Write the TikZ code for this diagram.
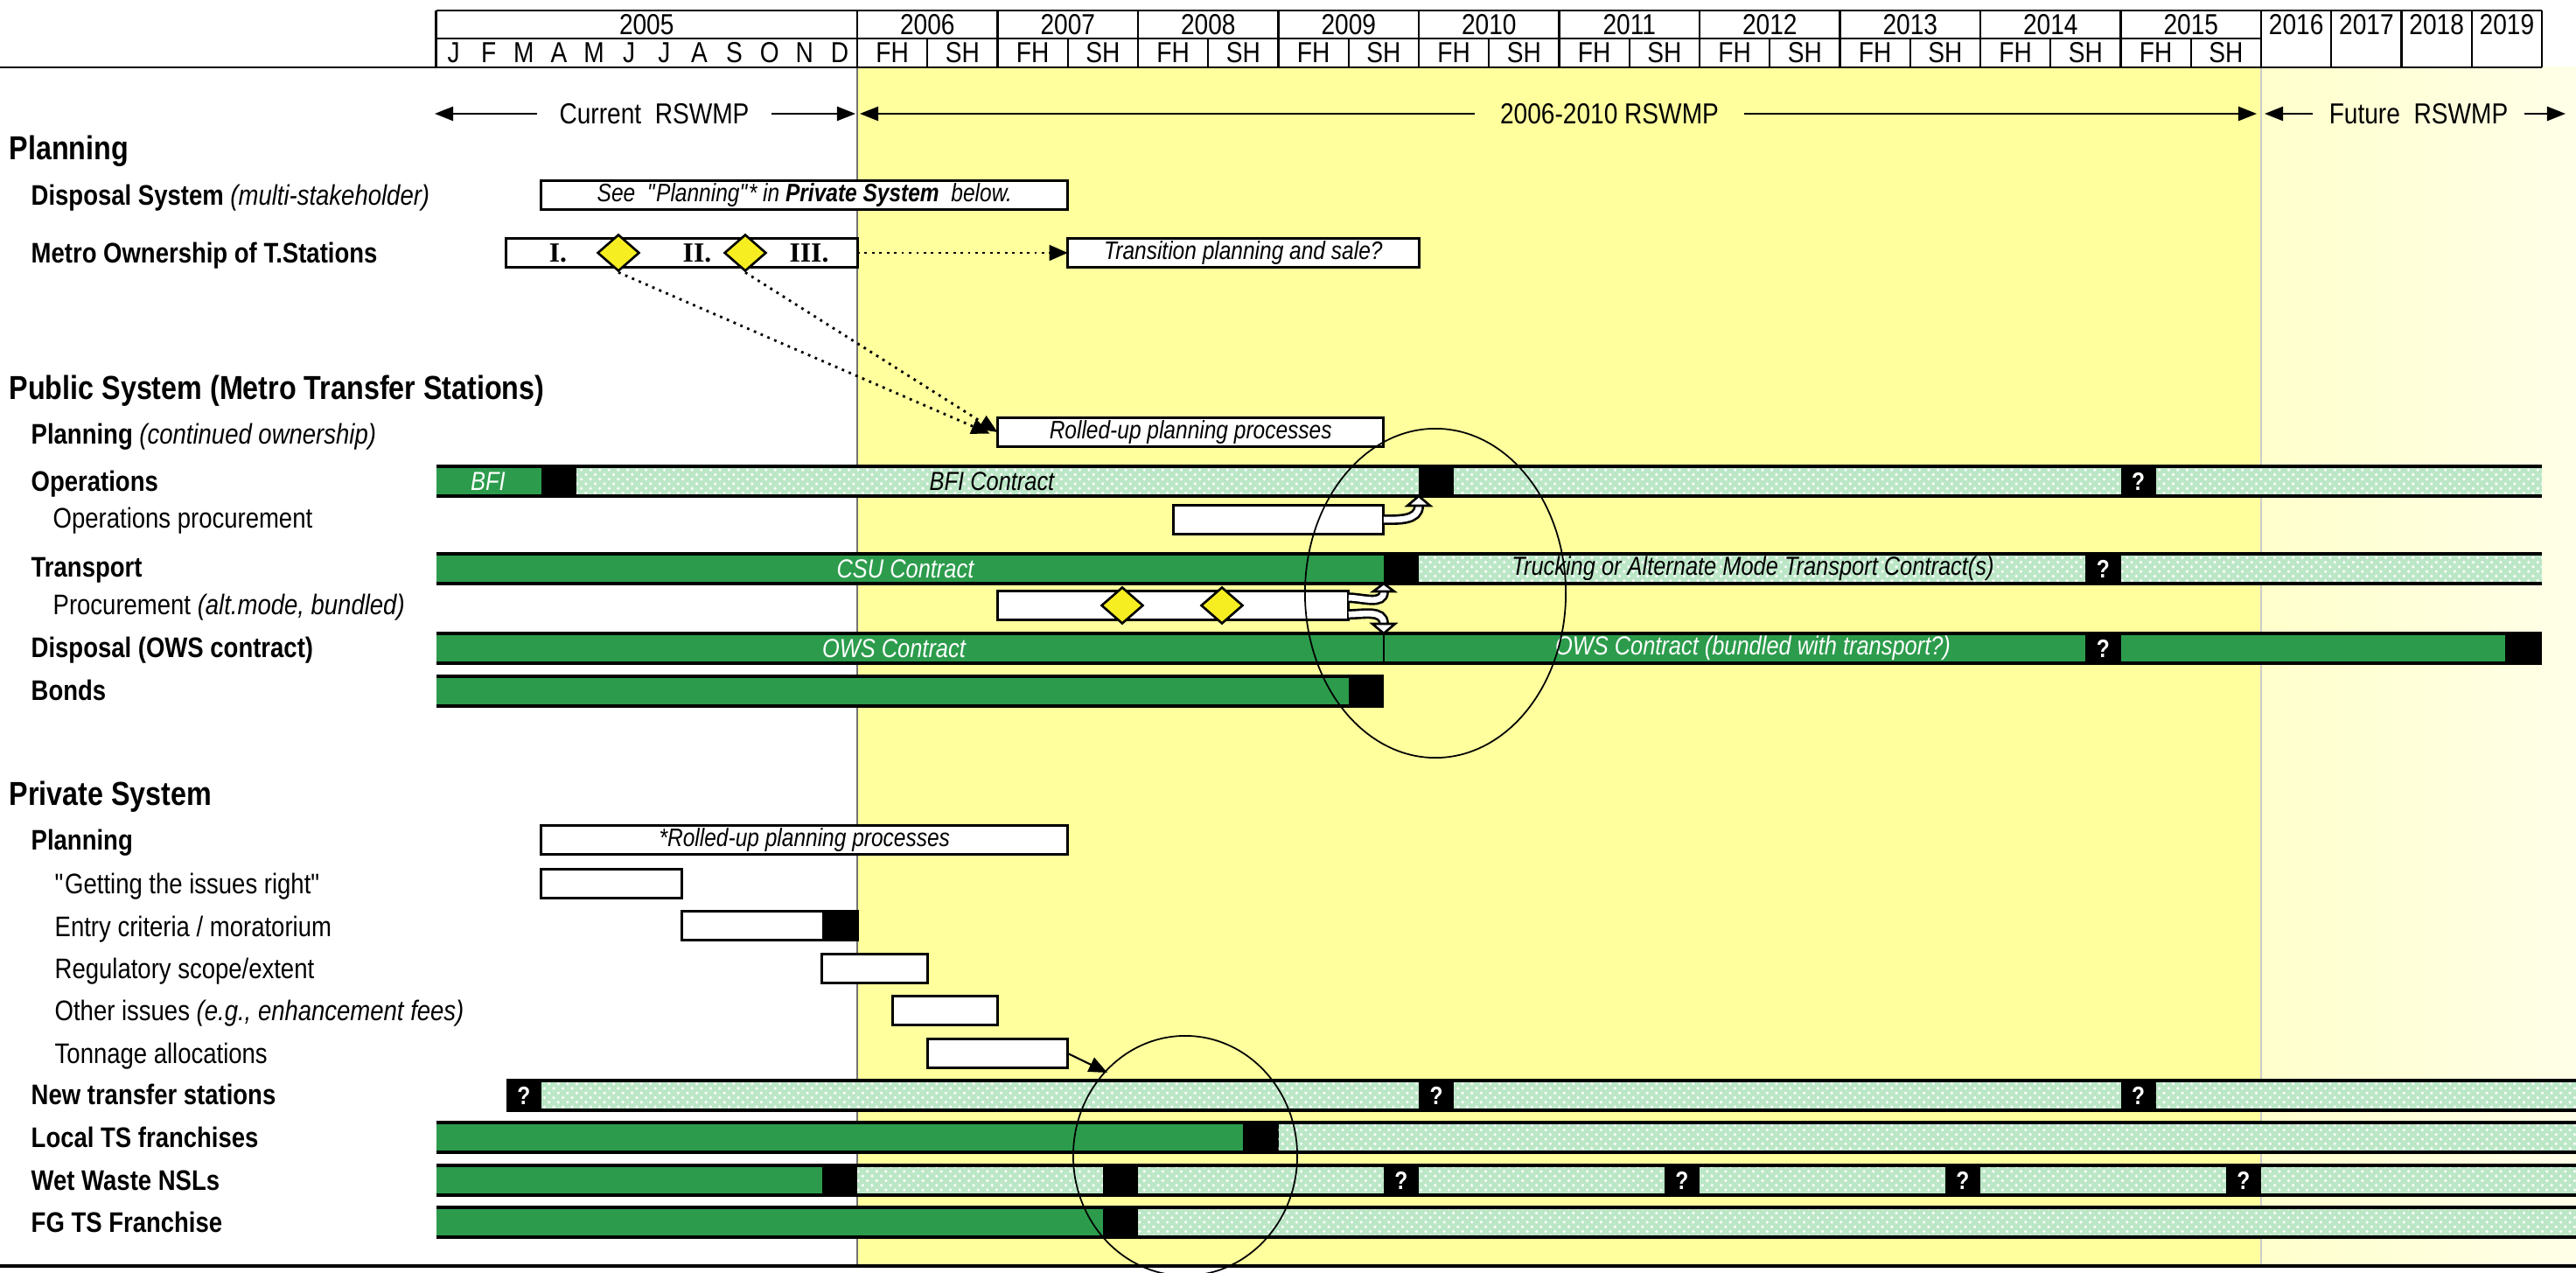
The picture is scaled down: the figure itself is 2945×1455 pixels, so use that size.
\documentclass[tikz,border=0pt]{standalone}
\usepackage{fontspec}
\setmainfont{Liberation Sans}[FakeStretch=0.85]
\newfontfamily\romanfont{Liberation Serif}
\usetikzlibrary{arrows.meta,patterns,shapes.geometric}
\definecolor{ylw}{HTML}{FFFF9E}
\definecolor{paleylw}{HTML}{FFFFCC}
\definecolor{dkgreen}{HTML}{2C9C4C}
\definecolor{ltgreen}{HTML}{BCE7C7}
\definecolor{dmd}{HTML}{F7EE22}
\newcommand{\dkseg}[3]{\fill[dkgreen] (#1,{#3-17}) rectangle (#2,{#3+17});}
\newcommand{\ltseg}[3]{\fill[ltgreen] (#1,{#3-17}) rectangle (#2,{#3+17});
  \fill[pattern=crosshatch dots, pattern color=white] (#1,{#3-17}) rectangle (#2,{#3+17});}
\newcommand{\blk}[5]{\node[qblk, minimum width={(#3-#2)*0.01cm}] (#1) at ({(#2+#3)/2},#4) {#5};}
\newcommand{\baredge}[3]{\draw[barline] (#1,{#3-17}) -- (#2,{#3-17}) (#1,{#3+17}) -- (#2,{#3+17});}
\newcommand{\wbox}[5]{\node[wbox, minimum width={(#3-#2)*0.01cm}] (#1) at ({(#2+#3)/2},#4) {#5};}
\begin{document}
\begin{tikzpicture}[x=0.01cm,y=-0.01cm,
  sec/.style={anchor=west, inner sep=0, font=\bfseries\fontsize{10.8}{12}\selectfont, text height=1.6ex, text depth=0.4ex},
  lbl/.style={anchor=west, inner sep=0, font=\bfseries\fontsize{9.2}{10}\selectfont, text height=1.6ex, text depth=0.4ex},
  sub/.style={anchor=west, inner sep=0, font=\fontsize{9.2}{10}\selectfont, text height=1.6ex, text depth=0.4ex},
  hdr/.style={inner sep=0, font=\fontsize{9.4}{10}\selectfont},
  wbox/.style={draw, line width=0.85pt, fill=white, inner sep=0, outer sep=0, minimum height=0.33cm, font=\itshape\fontsize{8.2}{9}\selectfont},
  qblk/.style={fill=black, text=white, inner sep=0, outer sep=0, minimum height=0.34cm, font=\bfseries\fontsize{8.2}{9}\selectfont},
  barline/.style={line width=1pt},
  blab/.style={inner sep=0, font=\itshape\fontsize{8.5}{9}\selectfont},
  harrow/.style={line width=0.6pt, -{Triangle[length=6pt,width=4.6pt]}},
  dotarrow/.style={line width=0.8pt, dash pattern=on 0.8pt off 1.6pt, -{Triangle[length=6pt,width=5pt]}},
  hol/.style={line width=0.75pt, double=white, double distance=1.9pt},
  headw/.style={fill=white, line width=0.75pt, line join=miter},
  dmdn/.style={diamond, draw, line width=0.75pt, fill=dmd, inner sep=0, minimum width=0.48cm, minimum height=0.42cm},
  roman/.style={inner sep=0, font=\romanfont\bfseries\fontsize{9}{10}\selectfont},
]
\useasboundingbox (0,0) rectangle (2945,1455);
% backgrounds
\fill[ylw] (980,77) rectangle (2585,1447);
\shade[left color=paleylw, right color=white!55!paleylw] (2585,77) rectangle (2945,1447);
\draw[black!55, line width=0.4pt] (980,77) -- (980,1447);
\draw[black!20, line width=0.4pt] (2585,77) -- (2585,1447);
% header table
\draw[line width=0.8pt] (0,77) -- (2906,77);
\draw[line width=0.8pt] (498.5,12) -- (2906,12);
\draw[line width=0.6pt] (498.5,44) -- (2585,44);
\foreach \xx in {498.5,980,1140.5,1301,1461.5,1622,1782.5,1943,2103.5,2264,2424.5,2585,2665.25,2745.5,2825.75,2906}
  \draw[line width=0.6pt] (\xx,12) -- (\xx,77);
\foreach \xx in {1060.25,1220.75,1381.25,1541.75,1702.25,1862.75,2023.25,2183.75,2344.25,2504.75}
  \draw[line width=0.6pt] (\xx,44) -- (\xx,77);
\node[hdr] (y2005) at (739.25,28) {2005};
\foreach \yr [count=\i from 0] in {2006,...,2015}
  \node[hdr] (yr\i) at ({1060.25+160.5*\i},28) {\yr};
\foreach \yr [count=\i from 0] in {2016,...,2019}
  \node[hdr] (yl\i) at ({2625.125+80.25*\i},28) {\yr};
\foreach \m [count=\i from 0] in {J,F,M,A,M,J,J,A,S,O,N,D}
  \node[hdr] (mo\i) at ({518.56+40.125*\i},60.5) {\m};
\foreach \i in {0,...,9} {
  \node[hdr] (fh\i) at ({1020.125+160.5*\i},60.5) {FH};
  \node[hdr] (sh\i) at ({1100.375+160.5*\i},60.5) {SH};
}
% RSWMP arrows
\node[hdr, inner xsep=7pt] (cur) at (748,130) {Current\ \ RSWMP};
\coordinate (curL) at (497,130); \coordinate (curR) at (978,130);
\draw[harrow] (cur) -- (curL); \draw[harrow] (cur) -- (curR);
\node[hdr, inner xsep=8pt] (mid) at (1840,130) {2006-2010 RSWMP};
\coordinate (midL) at (983,130); \coordinate (midR) at (2580,130);
\draw[harrow] (mid) -- (midL); \draw[harrow] (mid) -- (midR);
\node[hdr, inner xsep=5pt] (fut) at (2765,130) {Future\ \ RSWMP};
\coordinate (futL) at (2589,130); \coordinate (futR) at (2933,130);
\draw[harrow] (fut) -- (futL); \draw[harrow] (fut) -- (futR);
% left labels
\node[sec] (hplan) at (10,171) {Planning};
\node[lbl] (ldisp) at (35,223) {Disposal System {\mdseries\itshape (multi-stakeholder)}};
\node[lbl] (lmetro) at (35,289) {Metro Ownership of T.Stations};
\node[sec] (hpub) at (10,445) {Public System (Metro Transfer Stations)};
\node[lbl] (lpplan) at (35,496) {Planning {\mdseries\itshape (continued ownership)}};
\node[lbl] (lops) at (35,550) {Operations};
\node[sub] (lopsp) at (60,592) {Operations procurement};
\node[lbl] (ltrans) at (35,648) {Transport};
\node[sub] (lproc) at (60,691) {Procurement {\itshape (alt.mode, bundled)}};
\node[lbl] (lows) at (35,740) {Disposal (OWS contract)};
\node[lbl] (lbond) at (35,789) {Bonds};
\node[sec] (hpriv) at (10,909) {Private System};
\node[lbl] (lprplan) at (35,960) {Planning};
\node[sub] (lget) at (62,1010) {\textquotedbl Getting the issues right\textquotedbl};
\node[sub] (lentry) at (62,1059) {Entry criteria / moratorium};
\node[sub] (lreg) at (62,1107) {Regulatory scope/extent};
\node[sub] (loth) at (62,1155) {Other issues {\itshape (e.g., enhancement fees)}};
\node[sub] (lton) at (62,1204) {Tonnage allocations};
\node[lbl] (lnew) at (35,1251) {New transfer stations};
\node[lbl] (lloc) at (35,1300) {Local TS franchises};
\node[lbl] (lwet) at (35,1349) {Wet Waste NSLs};
\node[lbl] (lfg) at (35,1397) {FG TS Franchise};
% Operations
\dkseg{498.5}{618.9}{550}
\ltseg{659}{1622}{550}
\ltseg{1662.1}{2424.5}{550}
\ltseg{2464.6}{2906}{550}
\blk{opsb1}{618.9}{659}{550}{}
\blk{opsb2}{1622}{1662.1}{550}{}
\blk{opsq}{2424.5}{2464.6}{550}{?}
\baredge{498.5}{2906}{550}
% Transport
\dkseg{498.5}{1581.9}{650}
\ltseg{1622}{2384.4}{650}
\ltseg{2424.5}{2906}{650}
\blk{trb}{1581.9}{1622}{650}{}
\blk{trq}{2384.4}{2424.5}{650}{?}
\baredge{498.5}{2906}{650}
% OWS
\dkseg{498.5}{2384.4}{741}
\dkseg{2424.5}{2864}{741}
\blk{owsq}{2384.4}{2424.5}{741}{?}
\blk{owsb}{2864}{2906}{741}{}
\coordinate (owsdiv) at (1581.9,724);
\draw[line width=0.6pt] (owsdiv) -- (1581.9,758);
\baredge{498.5}{2906}{741}
% Bonds
\dkseg{498.5}{1541.75}{790}
\blk{bondb}{1541.75}{1581.9}{790}{}
\baredge{498.5}{1581.9}{790}
% New transfer stations
\blk{ntq1}{578.75}{618.9}{1252}{?}
\ltseg{618.9}{1622}{1252}
\blk{ntq2}{1622}{1662.1}{1252}{?}
\ltseg{1662.1}{2424.5}{1252}
\blk{ntq3}{2424.5}{2464.6}{1252}{?}
\ltseg{2464.6}{2945}{1252}
\baredge{578.75}{2945}{1252}
% Local TS
\dkseg{498.5}{1421.4}{1300}
\blk{locb}{1421.4}{1461.5}{1300}{}
\ltseg{1461.5}{2945}{1300}
\baredge{498.5}{2945}{1300}
% Wet waste
\dkseg{498.5}{939.9}{1349}
\blk{wetb1}{939.9}{980}{1349}{}
\ltseg{980}{1260.9}{1349}
\blk{wetb2}{1260.9}{1301}{1349}{}
\ltseg{1301}{1581.9}{1349}
\blk{wetq1}{1581.9}{1622}{1349}{?}
\ltseg{1622}{1902.9}{1349}
\blk{wetq2}{1902.9}{1943}{1349}{?}
\ltseg{1943}{2223.9}{1349}
\blk{wetq3}{2223.9}{2264}{1349}{?}
\ltseg{2264}{2544.9}{1349}
\blk{wetq4}{2544.9}{2585}{1349}{?}
\ltseg{2585}{2945}{1349}
\baredge{498.5}{2945}{1349}
% FG TS
\dkseg{498.5}{1260.9}{1397}
\blk{fgb}{1260.9}{1301}{1397}{}
\ltseg{1301}{2945}{1397}
\baredge{498.5}{2945}{1397}
% bar labels
\node[blab,text=white] (bfi) at (558,550) {BFI};
\node[blab] (bfic) at (1134,550) {BFI Contract};
\node[blab,text=white] (csu) at (1035,650) {CSU Contract};
\node[blab] (truck) at (2004,650) {Trucking or Alternate Mode Transport Contract(s)};
\node[blab,text=white] (ows1) at (1022,741) {OWS Contract};
\node[blab,text=white] (ows2) at (2004,741) {OWS Contract (bundled with transport?)};
% white boxes
\wbox{dispbox}{618.9}{1220.75}{223}{See~ \textquotedbl Planning\textquotedbl* in \textbf{Private System}~ below.}
\wbox{mbox}{578.75}{980}{289}{}
\wbox{trans}{1220.75}{1622}{289}{Transition planning and sale?}
\wbox{rup}{1140.5}{1581.9}{494}{Rolled-up planning processes}
\wbox{opsp}{1341.1}{1581.9}{594}{}
\wbox{proc}{1140.5}{1541.75}{692}{}
\wbox{pplan}{618.9}{1220.75}{960}{*Rolled-up planning processes}
\wbox{get}{618.9}{779.4}{1010}{}
\wbox{entry}{779.4}{980}{1058}{}
\fill (939.9,1042) rectangle (980,1074);
\wbox{reg}{939.9}{1060.25}{1107}{}
\wbox{oth}{1020.1}{1140.5}{1155}{}
\wbox{ton}{1060.25}{1220.75}{1204}{}
% diamonds and numerals
\node[roman] (r1) at (638,289) {I.};
\node[roman] (r2) at (797,289) {II.};
\node[roman] (r3) at (925,289) {III.};
\node[dmdn] (md1) at (707,289) {};
\node[dmdn] (md2) at (852,289) {};
\node[dmdn] (pd1) at (1283,692) {};
\node[dmdn] (pd2) at (1397,692) {};
% dotted connectors
\draw[dotarrow] (md1.south) -- ([xshift=-2.5pt,yshift=-0.5pt]rup.west);
\draw[dotarrow] (md2.south) -- (rup.west);
\draw[dotarrow] (mbox.east) -- (trans.west);
% tonnage arrow
\coordinate (tonend) at (1266,1226);
\draw[line width=0.6pt, -{Triangle[length=6pt,width=5pt]}] (ton.east) -- (tonend);
% hollow arrows
\draw[hol] (opsp.east) to[out=0,in=-90] ([yshift=-3.2pt]opsb2.south west);
\filldraw[headw] (opsb2.south west) -- ++(-13,11) -- ++(26,0) -- cycle;
\draw[hol] ([yshift=2.5pt]proc.east) to[out=0,in=-90] ([yshift=-2.6pt]trb.south west);
\filldraw[headw] (trb.south west) -- ++(-12,9) -- ++(24,0) -- cycle;
\draw[hol] ([yshift=-2.9pt]proc.east) to[out=0,in=90] ([yshift=3.2pt]owsdiv);
\filldraw[headw] (owsdiv) -- ++(-13,-11) -- ++(26,0) -- cycle;
% ellipses
\draw[line width=0.5pt] (1641,678) ellipse [x radius=1.49cm, y radius=1.88cm];
\draw[line width=0.5pt] (1355,1321) ellipse [x radius=1.28cm, y radius=1.37cm];
% bottom rule
\draw[line width=1pt] (0,1447) -- (2945,1447);
\end{tikzpicture}
\end{document}
